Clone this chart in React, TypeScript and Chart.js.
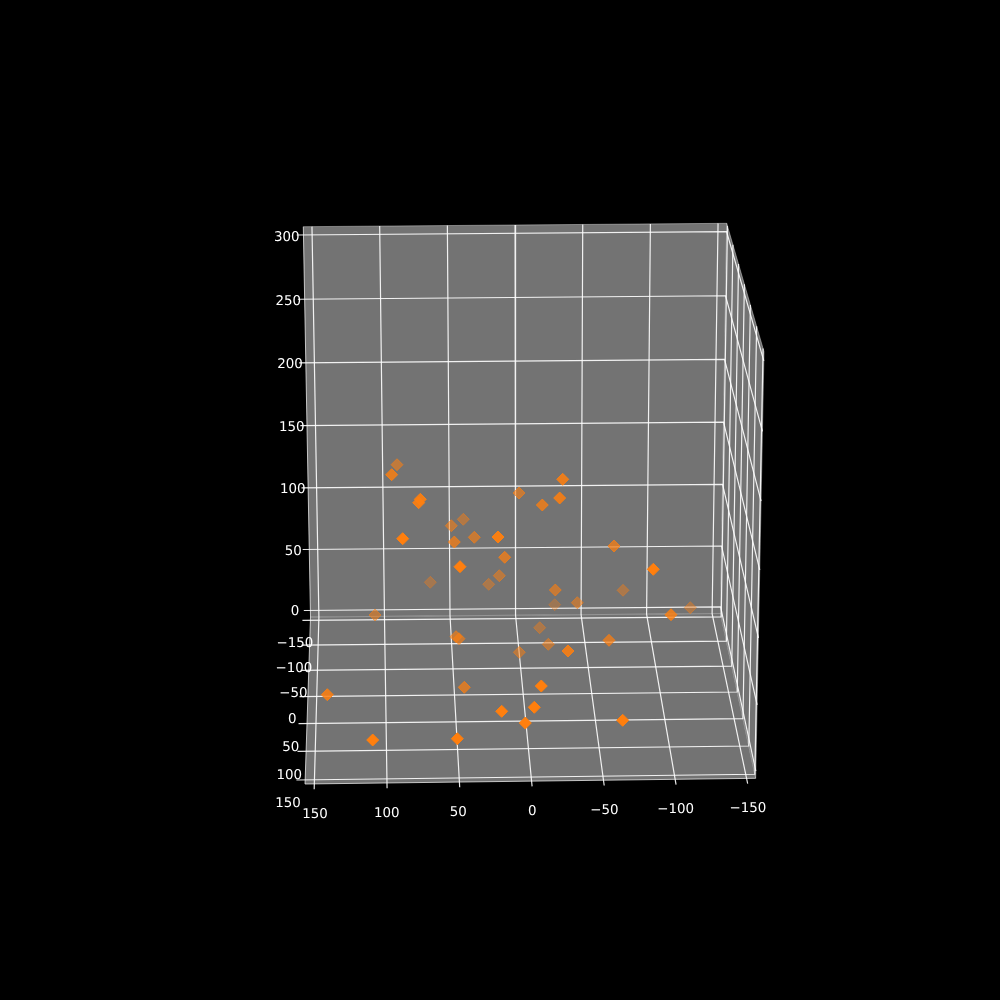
import React, { useEffect, useRef } from "react";
import { Chart, registerables } from "chart.js";

Chart.register(...registerables);

// Tick values of the three axes
const xTicks = [150, 100, 50, 0, -50, -100, -150];
const yTicks = [-150, -100, -50, 0, 50, 100, 150];
const zTicks = [0, 50, 100, 150, 200, 250, 300];

// Tick label anchors
const xLabelX = [315, 386.7, 458.3, 532.3, 604.3, 675.7, 748];
const xLabelY = [815, 814, 813, 811.7, 810.7, 810, 809];
const yLabelX = [295, 294, 293.3, 292.3, 290.7, 289.3, 288];
const yLabelY = [644, 669, 694, 720, 748, 775.7, 804];
const zLabelX = [295, 293.3, 292.7, 291.7, 290, 288.3, 286.7];
const zLabelY = [611.7, 551.4, 490, 427.4, 364.7, 301.7, 238];

// Scatter points: projected positions and their depth-shade opacity
const pointX = [397, 391.7, 420.3, 418.7, 402.7, 451.3, 463.3, 454.3, 474.3, 498, 460, 504.7, 499.3, 488.7, 430.3, 375, 562.7, 559.7, 542.3, 519, 614, 653.3, 555.3, 623, 554.7, 577.3, 671, 690.3, 539.7, 456, 459, 464.3, 327.3, 501.7, 372.7, 457.3, 519.3, 548.3, 568, 609, 541.3, 534.3, 525.3, 622.7];
const pointY = [464.7, 474.7, 499.3, 502.7, 538.7, 525.7, 519.3, 542, 537.3, 537, 566.7, 557.3, 575.7, 584.3, 582.3, 615, 479.3, 498, 505, 493, 546, 569.3, 590, 590.3, 604.7, 602.7, 614.7, 607.7, 627.7, 636.7, 638.7, 687.3, 694.7, 711.3, 740, 738.7, 652.3, 644.3, 651, 640.3, 686, 707.3, 723, 720.3];
const pointOpacity = [0.55, 0.8, 0.9, 0.9, 1, 0.55, 0.45, 0.7, 0.6, 0.95, 1, 0.7, 0.5, 0.4, 0.35, 0.5, 0.85, 0.85, 0.75, 0.6, 0.7, 1, 0.6, 0.4, 0.3, 0.5, 0.8, 0.4, 0.4, 0.6, 0.6, 0.7, 0.85, 1, 1, 1, 0.5, 0.5, 0.85, 0.7, 1, 1, 1, 1];

// Axis limits and the projected corners of the three panes
const xLim = 156.4;
const yLim = 157;
const zMin = -5.4;
const zMax = 306.4;
const backTL = [303.3, 226.7];
const backTR = [726.7, 223.3];
const backBR = [720.5, 613.5];
const backBL = [310.5, 617];
const frontBL = [305, 784];
const frontBR = [755.7, 778.3];
const frontTR = [764, 351.7];

type P = number[];
function homography(p0: P, p1: P, p2: P, p3: P) {
  const dx1 = p1[0] - p2[0], dx2 = p3[0] - p2[0], sx = p0[0] - p1[0] + p2[0] - p3[0];
  const dy1 = p1[1] - p2[1], dy2 = p3[1] - p2[1], sy = p0[1] - p1[1] + p2[1] - p3[1];
  const den = dx1 * dy2 - dx2 * dy1;
  const g = (sx * dy2 - dx2 * sy) / den;
  const h = (dx1 * sy - sx * dy1) / den;
  const a = p1[0] - p0[0] + g * p1[0], b = p3[0] - p0[0] + h * p3[0], c = p0[0];
  const d = p1[1] - p0[1] + g * p1[1], e = p3[1] - p0[1] + h * p3[1], f = p0[1];
  return (u: number, v: number) => {
    const w = g * u + h * v + 1;
    return { x: (a * u + b * v + c) / w, y: (d * u + e * v + f) / w };
  };
}

const backH = homography(backBL, backBR, backTR, backTL);
const floorH = homography(backBL, backBR, frontBR, frontBL);
const rightH = homography(backBR, frontBR, frontTR, backTR);

const uX = (x: number) => (xLim - x) / (2 * xLim);
const vY = (y: number) => (y + yLim) / (2 * yLim);
const vZ = (z: number) => (z - zMin) / (zMax - zMin);

const onBack = (x: number, z: number) => backH(uX(x), vZ(z));
const onFloor = (x: number, y: number) => floorH(uX(x), vY(y));
const onRight = (y: number, z: number) => rightH(vY(y), vZ(z));

const PANE = "#737373";
const GRID = "rgba(255,255,255,0.9)";
const EDGE = "rgba(255,255,255,0.38)";
const AXIS = "rgba(255,255,255,0.7)";

function line(data: { x: number; y: number }[], color: string, width: number, extra: object = {}) {
  return { type: "scatter", data, showLine: true, borderColor: color, borderWidth: width, pointRadius: 0, fill: false, tension: 0, ...extra };
}

function buildDatasets() {
  const sets: any[] = [];
  const pane = (pts: { x: number; y: number }[]) =>
    sets.push(line([...pts, pts[0]], PANE, 0, { fill: "shape", backgroundColor: PANE }));
  pane([onBack(xLim, zMin), onBack(-xLim, zMin), onBack(-xLim, zMax), onBack(xLim, zMax)]);
  pane([onFloor(xLim, -yLim), onFloor(-xLim, -yLim), onFloor(-xLim, yLim), onFloor(xLim, yLim)]);
  pane([onRight(-yLim, zMin), onRight(yLim, zMin), onRight(yLim, zMax), onRight(-yLim, zMax)]);

  // pane edges
  sets.push(line([onBack(xLim, zMax), onBack(-xLim, zMax), onRight(yLim, zMax), onRight(yLim, zMin)], EDGE, 1));
  sets.push(line([onBack(-xLim, zMax), onBack(-xLim, zMin), onBack(xLim, zMin)], EDGE, 1));
  sets.push(line([onBack(-xLim, zMin), onRight(yLim, zMin)], EDGE, 1));
  // axis lines
  sets.push(line([onBack(xLim, zMax), onBack(xLim, zMin), onFloor(xLim, yLim), onFloor(-xLim, yLim)], AXIS, 1));

  // grid lines with their outward ticks
  xTicks.forEach((t) => {
    sets.push(line([onBack(t, zMax), onBack(t, zMin), onFloor(t, yLim + 9)], GRID, 1.2));
  });
  yTicks.forEach((t) => {
    sets.push(line([onFloor(xLim + 6, t), onFloor(-xLim, t), onRight(t, zMax)], GRID, 1.2));
  });
  zTicks.forEach((t) => {
    sets.push(line([onBack(xLim + 5, t), onBack(-xLim, t), onRight(yLim, t)], GRID, 1.2));
  });

  // markers, far ones first
  const order = pointX.map((_, i) => i).sort((a, b) => pointOpacity[a] - pointOpacity[b]);
  sets.push({
    type: "scatter",
    data: order.map((i) => ({ x: pointX[i], y: pointY[i] })),
    pointStyle: "rectRot",
    pointRadius: 6,
    pointBorderWidth: 1,
    pointBackgroundColor: order.map((i) => `rgba(255,127,14,${pointOpacity[i]})`),
    pointBorderColor: order.map((i) => `rgba(255,127,14,${pointOpacity[i]})`),
  });
  // Chart.js paints the last dataset first, so the list is reversed
  return sets.reverse();
}

const tickLabels = {
  id: "tickLabels",
  afterDatasetsDraw(chart: any) {
    const { ctx, scales } = chart;
    ctx.save();
    ctx.fillStyle = "#ffffff";
    ctx.font = '13.4px "DejaVu Sans"';
    ctx.textRendering = "geometricPrecision";
    ctx.textAlign = "center";
    ctx.textBaseline = "middle";
    const draw = (vals: number[], xs: number[], ys: number[]) =>
      vals.forEach((v, i) => {
        const s = v < 0 ? "\u2212" + Math.abs(v) : String(v);
        ctx.fillText(s, scales.x.getPixelForValue(xs[i]), scales.y.getPixelForValue(ys[i]));
      });
    draw(xTicks, xLabelX, xLabelY);
    draw(yTicks, yLabelX, yLabelY);
    draw(zTicks, zLabelX, zLabelY);
    ctx.restore();
  },
};

export default function App() {
  const ref = useRef<HTMLCanvasElement>(null);
  useEffect(() => {
    document.body.style.background = "#000";
    const chart = new Chart(ref.current as HTMLCanvasElement, {
      type: "scatter",
      data: { datasets: buildDatasets() },
      plugins: [tickLabels],
      options: {
        animation: false,
        responsive: false,
        layout: { padding: 0, autoPadding: false },
        plugins: { legend: { display: false }, tooltip: { enabled: false } },
        scales: {
          x: { type: "linear", min: 0, max: 1000, display: false },
          y: { type: "linear", min: 0, max: 1000, reverse: true, display: false },
        },
      },
    } as any);
    return () => chart.destroy();
  }, []);
  return (
    <canvas
      ref={ref}
      width={1000}
      height={1000}
      style={{ position: "fixed", left: 0, top: 0, width: 1000, height: 1000, background: "#000" }}
    />
  );
}
